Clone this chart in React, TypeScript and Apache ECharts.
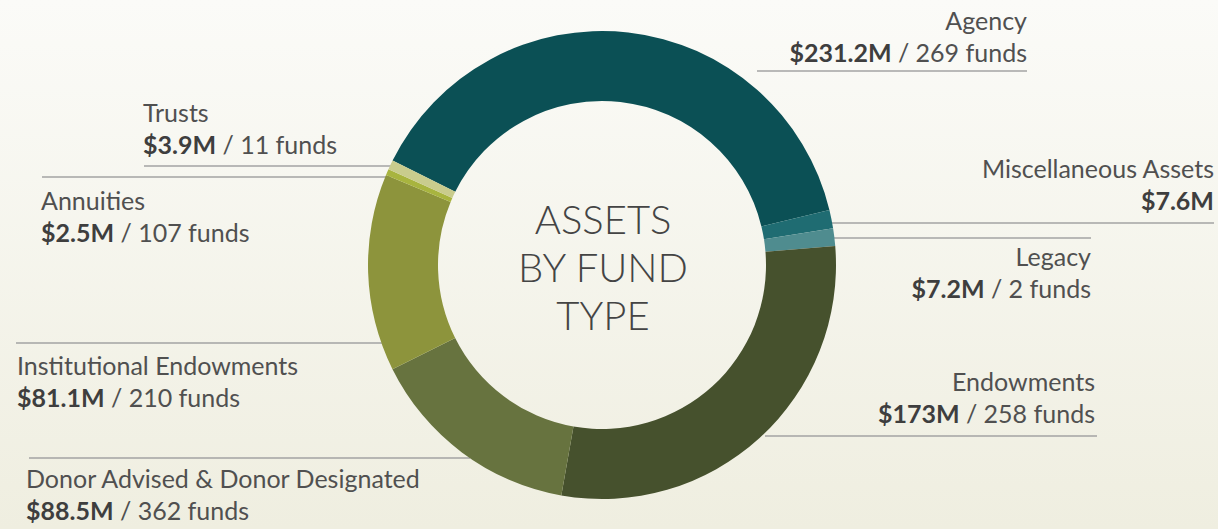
import React, { useEffect, useRef } from "react";
import * as echarts from "echarts";

const categories = [
  "Agency",
  "Miscellaneous Assets",
  "Legacy",
  "Endowments",
  "Donor Advised & Donor Designated",
  "Institutional Endowments",
  "Annuities",
  "Trusts",
];
const amounts = [231.2, 7.6, 7.2, 173, 88.5, 81.1, 2.5, 3.9];
const amountLabels = ["$231.2M", "$7.6M", "$7.2M", "$173M", "$88.5M", "$81.1M", "$2.5M", "$3.9M"];
const fundCounts: (number | null)[] = [269, null, 2, 258, 362, 210, 107, 11];
const sliceColors = ["#0b5055", "#1f6c72", "#4f8c8f", "#46512d", "#67733f", "#8d943c", "#a8b43f", "#c9cc8d"];
const centerTitle = "ASSETS\nBY FUND\nTYPE";

// label placement (layout only)
const labelPlacement = [
  { x: 1027, top: 4, align: "right", lineY: 71, x1: 757, x2: 1027 },
  { x: 1214, top: 152, align: "right", lineY: 223, x1: 832, x2: 1214 },
  { x: 1091, top: 240, align: "right", lineY: 238, x1: 833, x2: 1091 },
  { x: 1095, top: 365, align: "right", lineY: 436, x1: 765, x2: 1097 },
  { x: 26, top: 462, align: "left", lineY: 458, x1: 470, x2: 29 },
  { x: 17, top: 349, align: "left", lineY: 343, x1: 382, x2: 16 },
  { x: 41, top: 184, align: "left", lineY: 177, x1: 390, x2: 42 },
  { x: 143, top: 96, align: "left", lineY: 166, x1: 394, x2: 144 },
];

const FONT = "Lato, 'Open Sans', sans-serif";
const FS = 25;

export default function App() {
  const ref = useRef<HTMLDivElement>(null);
  useEffect(() => {
    if (!ref.current) return;
    const chart = echarts.init(ref.current, undefined, { renderer: "svg" });
    const data = categories.map((name, i) => ({
      name,
      value: amounts[i],
      itemStyle: { color: sliceColors[i] },
    }));
    chart.setOption({
      animation: false,
      backgroundColor: new echarts.graphic.LinearGradient(0, 0, 0, 1, [
        { offset: 0, color: "#fbfbf8" },
        { offset: 1, color: "#efeee0" },
      ]),
      graphic: [
        {
          type: "text",
          x: 603,
          y: 267,
          style: {
            text: centerTitle,
            textAlign: "center",
            textVerticalAlign: "middle",
            fontFamily: FONT,
            fontWeight: 300,
            fontSize: 40,
            lineHeight: 48,
            fill: "#444444",
          },
        },
      ],
      series: [
        {
          type: "pie",
          center: [602, 265],
          radius: [164, 234],
          startAngle: 153.5,
          clockwise: true,
          avoidLabelOverlap: false,
          data,
          label: {
            show: true,
            fontFamily: FONT,
            formatter: (p: any) => {
              const i = p.dataIndex;
              const f = fundCounts[i];
              return (
                `{name|${categories[i]}}\n{val|${amountLabels[i]}}` +
                (f != null ? `{rest| / ${f} funds}` : "")
              );
            },
            rich: {
              name: { fontFamily: FONT, fontSize: FS, lineHeight: 32, color: "#505050" },
              val: { fontFamily: FONT, fontSize: FS, lineHeight: 32, fontWeight: "bold", color: "#3e3e3e" },
              rest: { fontFamily: FONT, fontSize: FS, lineHeight: 32, color: "#505050" },
            },
          },
          labelLine: {
            show: true,
            lineStyle: { color: "#a3a3a3", width: 1.5 },
          },
          labelLayout: (params: any) => {
            const L = labelPlacement[params.dataIndex];
            return {
              x: L.x,
              y: L.top,
              align: L.align,
              verticalAlign: "top",
              labelLinePoints: [
                [L.x1, L.lineY],
                [L.x2, L.lineY],
                [L.x2, L.lineY],
              ],
            };
          },
          emphasis: { disabled: true },
        },
      ],
    });
    return () => chart.dispose();
  }, []);
  return (
    <div
      ref={ref}
      style={{ position: "fixed", left: 0, top: 0, width: 1218, height: 529 }}
    />
  );
}
